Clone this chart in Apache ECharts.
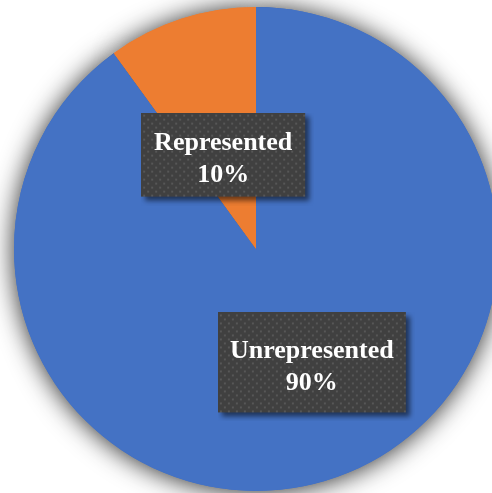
<!DOCTYPE html>
<html>
<head>
<meta charset="utf-8">
<script src="https://cdn.jsdelivr.net/npm/echarts@6/dist/echarts.min.js"></script>
<style>
  html, body { margin: 0; padding: 0; background: #fff; }
  #chart { width: 492px; height: 493px; }
</style>
</head>
<body>
<div id="chart"></div>
<script>
const categories = ['Unrepresented', 'Represented']
const values = [90, 10]
const colors = ['#4472C4', '#ED7D31']

const boxSizes = [[188, 100], [164, 84]]
const shadowPad = 9
const pieCenter = [256, 249]
const pieRadius = 242

// dotted dark box with its drop shadow baked in
function makeTexture(w, h) {
  const c = document.createElement('canvas')
  c.width = w + shadowPad
  c.height = h + shadowPad
  const ctx = c.getContext('2d')
  ctx.save()
  ctx.shadowColor = 'rgba(0,0,0,0.55)'
  ctx.shadowBlur = 5
  ctx.shadowOffsetX = 4
  ctx.shadowOffsetY = 4
  ctx.fillStyle = '#404040'
  ctx.fillRect(0, 0, w, h)
  ctx.restore()
  ctx.fillStyle = '#575757'
  for (let y = 2, row = 0; y < h - 1; y += 4, row++) {
    for (let x = (row % 2) * 4 + 2; x < w - 1; x += 8) {
      ctx.fillRect(x, y, 2, 2)
    }
  }
  return c
}

const pieData = categories.map((name, i) => ({
  name,
  value: values[i],
  itemStyle: { color: colors[i] }
}))

const chart = echarts.init(document.getElementById('chart'))
chart.setOption({
  animation: false,
  series: [
    // soft halo behind the pie
    {
      type: 'pie',
      z: 1,
      silent: true,
      center: pieCenter,
      radius: pieRadius,
      startAngle: 90,
      data: pieData,
      itemStyle: {
        shadowBlur: 26,
        shadowOffsetY: 1,
        shadowColor: 'rgba(0,0,0,0.85)'
      },
      label: { show: false },
      labelLine: { show: false }
    },
    {
      type: 'pie',
      z: 2,
      center: pieCenter,
      radius: pieRadius,
      startAngle: 90,
      clockwise: true,
      data: pieData.map((d, i) => ({
        ...d,
        label: {
          width: boxSizes[i][0] - 24,
          height: boxSizes[i][1] - 20,
          backgroundColor: { image: makeTexture(boxSizes[i][0], boxSizes[i][1]) }
        }
      })),
      label: {
        show: true,
        position: 'inside',
        formatter: '{b}\n{d}%',
        fontFamily: '"Liberation Serif", "Times New Roman", serif',
        fontWeight: 'bold',
        fontSize: 26,
        lineHeight: 32,
        align: 'center',
        verticalAlign: 'middle',
        overflow: 'none',
        color: '#ffffff',
        padding: [10, 12 + shadowPad, 10 + shadowPad, 12]
      },
      labelLine: { show: false },
      labelLayout: function (params) {
        if (params.dataIndex === 0) return { dx: 22, dy: 0 }
        return { dx: 10, dy: 28 }
      }
    }
  ]
})
</script>
</body>
</html>
